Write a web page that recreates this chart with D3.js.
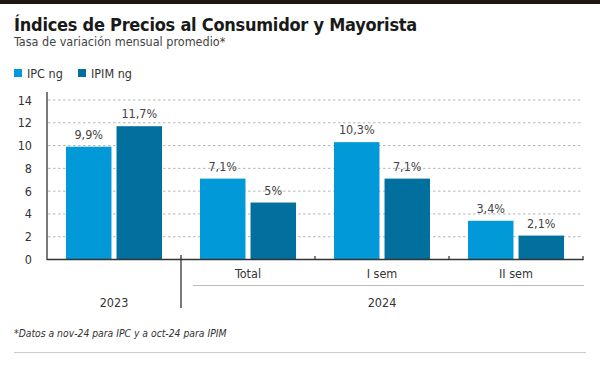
<!DOCTYPE html>
<html>
<head>
<meta charset="utf-8">
<script src="https://cdn.jsdelivr.net/npm/d3@7"></script>
<style>
  body { margin: 0; background: #fff; }
  svg text { font-family: "Liberation Sans Narrow", "DejaVu Sans Condensed", sans-serif; }
</style>
</head>
<body>
<svg id="chart" width="600" height="365"></svg>
<script>
// datos
var groups = ["2023", "Total", "I sem", "II sem"];
var seriesNames = ["IPC ng", "IPIM ng"];
var ipc = [9.9, 7.1, 10.3, 3.4];
var ipim = [11.7, 5, 7.1, 2.1];
var ipcLabels = ["9,9%", "7,1%", "10,3%", "3,4%"];
var ipimLabels = ["11,7%", "5%", "7,1%", "2,1%"];
var yTicks = [0, 2, 4, 6, 8, 10, 12, 14];
var colors = ["#0199d8", "#01709f"];

var svg = d3.select("#chart");

// barra superior
svg.append("rect").attr("x", 0).attr("y", 0).attr("width", 600).attr("height", 4).attr("fill", "#1e1613");

svg.append("text").attr("x", 14).attr("y", 31)
  .style("font-size", "18px").style("font-weight", "bold").style("letter-spacing", "-0.25px")
  .attr("fill", "#1a1a1a")
  .text("Índices de Precios al Consumidor y Mayorista");
svg.append("text").attr("x", 14).attr("y", 46)
  .style("font-size", "12.5px").attr("fill", "#444")
  .text("Tasa de variación mensual promedio*");

// leyenda
var legX = [14, 78];
seriesNames.forEach(function(s, i){
  svg.append("rect").attr("x", legX[i]).attr("y", 69).attr("width", 8).attr("height", 8).attr("fill", colors[i]);
  svg.append("text").attr("x", legX[i] + 13).attr("y", 78)
    .style("font-size", "12.5px").attr("fill", "#333").text(s);
});

var x0 = d3.scaleBand().domain(groups).range([47, 583]).paddingInner(0).paddingOuter(0);
var x1 = d3.scaleBand().domain(seriesNames).range([19, x0.bandwidth() - 19]).paddingInner(0.1);
var y = d3.scaleLinear().domain([0, 14]).range([259.5, 100]);

// grilla
var grid = svg.append("g");
yTicks.filter(function(t){ return t > 0; }).forEach(function(t){
  grid.append("line").attr("x1", 48).attr("x2", 582).attr("y1", y(t)).attr("y2", y(t))
    .attr("stroke", "#b5b5b5").attr("stroke-width", 1).attr("stroke-dasharray", "2.5,2.5");
});

var yAxis = d3.axisLeft(y).tickValues(yTicks).tickSize(0).tickPadding(15);
var gy = svg.append("g").attr("transform", "translate(47,0)").call(yAxis);
gy.select(".domain").remove();
gy.selectAll("text").style("font-size", "12.5px").attr("fill", "#333");
svg.append("line").attr("x1", 47).attr("x2", 47).attr("y1", 92).attr("y2", 260)
  .attr("stroke", "#333").attr("stroke-width", 1.3);

// barras
var rows = groups.map(function(g, i){
  return [{g: g, s: seriesNames[0], v: ipc[i], l: ipcLabels[i]},
          {g: g, s: seriesNames[1], v: ipim[i], l: ipimLabels[i]}];
});
var gg = svg.selectAll(".grp").data(rows).enter().append("g")
  .attr("transform", function(d, i){ return "translate(" + x0(groups[i]) + ",0)"; });
gg.selectAll("rect").data(function(d){ return d; }).enter().append("rect")
  .attr("x", function(d){ return x1(d.s); })
  .attr("y", function(d){ return y(d.v); })
  .attr("width", x1.bandwidth())
  .attr("height", function(d){ return y(0) - y(d.v); })
  .attr("fill", function(d, i){ return colors[i]; });
gg.selectAll("text").data(function(d){ return d; }).enter().append("text")
  .attr("x", function(d){ return x1(d.s) + x1.bandwidth() / 2; })
  .attr("y", function(d){ return y(d.v) - 8; })
  .attr("text-anchor", "middle")
  .style("font-size", "12.5px").attr("fill", "#444")
  .text(function(d){ return d.l; });

// eje x
svg.append("line").attr("x1", 47).attr("x2", 583.5).attr("y1", 259.5).attr("y2", 259.5)
  .attr("stroke", "#333").attr("stroke-width", 1.3);
groups.slice(2).concat(["end"]).forEach(function(g){
  var xx = g === "end" ? 583 : x0(g);
  svg.append("line").attr("x1", xx).attr("x2", xx).attr("y1", 256).attr("y2", 260)
    .attr("stroke", "#333").attr("stroke-width", 1.2);
});
var sep = x0("Total");
svg.append("line").attr("x1", sep).attr("x2", sep).attr("y1", 255).attr("y2", 308)
  .attr("stroke", "#333").attr("stroke-width", 1.3);

groups.slice(1).forEach(function(g){
  svg.append("text").attr("x", x0(g) + x0.bandwidth() / 2).attr("y", 278)
    .attr("text-anchor", "middle").style("font-size", "12.5px").attr("fill", "#333").text(g);
});
svg.append("line").attr("x1", 193).attr("x2", 584).attr("y1", 285.5).attr("y2", 285.5)
  .attr("stroke", "#bbb").attr("stroke-width", 1);

svg.append("text").attr("x", x0("2023") + x0.bandwidth() / 2).attr("y", 307)
  .attr("text-anchor", "middle").style("font-size", "12.5px").attr("fill", "#333").text("2023");
svg.append("text").attr("x", (x0("Total") + 583) / 2).attr("y", 307)
  .attr("text-anchor", "middle").style("font-size", "12.5px").attr("fill", "#333").text("2024");

svg.append("text").attr("x", 14).attr("y", 337)
  .style("font-size", "10.3px").style("font-style", "italic").attr("fill", "#333")
  .text("*Datos a nov-24 para IPC y a oct-24 para IPIM");
svg.append("line").attr("x1", 14).attr("x2", 586).attr("y1", 352.5).attr("y2", 352.5)
  .attr("stroke", "#ccc").attr("stroke-width", 1.2);
</script>
</body>
</html>
